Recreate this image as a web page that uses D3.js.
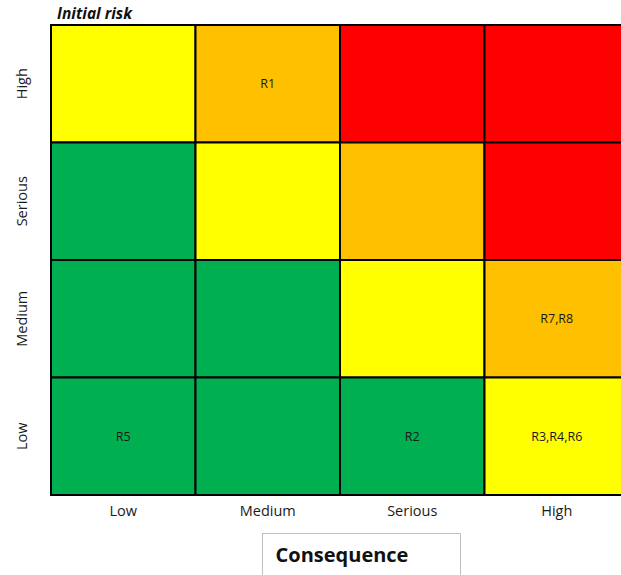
<!DOCTYPE html>
<html>
<head>
<meta charset="utf-8">
<script src="https://cdn.jsdelivr.net/npm/d3@7"></script>
<style>
  html, body { margin: 0; padding: 0; background: #fff; }
  svg { display: block; }
</style>
</head>
<body>
<div id="chart"></div>
<script>
// Risk matrix: likelihood rows (top = High) against consequence columns
const consequenceLevels = ["Low", "Medium", "Serious", "High"];
const likelihoodLevels = ["High", "Serious", "Medium", "Low"];

// Risk rating per cell, one row per likelihood level (top to bottom)
const ratingHigh    = ["medium", "elevated", "extreme", "extreme"];
const ratingSerious = ["low", "medium", "elevated", "extreme"];
const ratingMedium  = ["low", "low", "medium", "elevated"];
const ratingLow     = ["low", "low", "low", "medium"];

// Risk identifiers placed in each cell
const risksHigh    = ["", "R1", "", ""];
const risksSerious = ["", "", "", ""];
const risksMedium  = ["", "", "", "R7,R8"];
const risksLow     = ["R5", "", "R2", "R3,R4,R6"];

const ratingColors = { low: "#00B050", medium: "#FFFF00", elevated: "#FFC000", extreme: "#FF0000" };

const ratingRows = [ratingHigh, ratingSerious, ratingMedium, ratingLow];
const riskRows = [risksHigh, risksSerious, risksMedium, risksLow];

const cells = [];
likelihoodLevels.forEach((lik, r) => {
  consequenceLevels.forEach((con, c) => {
    cells.push({ likelihood: lik, consequence: con, rating: ratingRows[r][c], risks: riskRows[r][c] });
  });
});

const W = 621, H = 575;
const svg = d3.select("#chart").append("svg").attr("width", W).attr("height", H);

const x = d3.scaleBand().domain(consequenceLevels).range([51, 629]).padding(0);
const y = d3.scaleBand().domain(likelihoodLevels).range([25, 495]).padding(0);

const font = "Open Sans, Noto Sans, sans-serif";

// Cells
const g = svg.append("g");
g.selectAll("rect.cell").data(cells).join("rect")
  .attr("class", "cell")
  .attr("x", d => x(d.consequence))
  .attr("y", d => y(d.likelihood))
  .attr("width", x.bandwidth())
  .attr("height", y.bandwidth())
  .attr("fill", d => ratingColors[d.rating])
  .attr("stroke", "#000")
  .attr("stroke-width", 2);

g.selectAll("text.risk").data(cells.filter(d => d.risks)).join("text")
  .attr("class", "risk")
  .attr("x", d => x(d.consequence) + x.bandwidth() / 2)
  .attr("y", d => y(d.likelihood) + y.bandwidth() / 2)
  .attr("text-anchor", "middle")
  .attr("dominant-baseline", "central")
  .attr("font-family", font)
  .attr("font-size", 12.5)
  .attr("fill", "#1a1a1a")
  .text(d => d.risks);

// Consequence labels along the bottom
svg.selectAll("text.xlab").data(consequenceLevels).join("text")
  .attr("class", "xlab")
  .attr("x", d => x(d) + x.bandwidth() / 2)
  .attr("y", 516)
  .attr("text-anchor", "middle")
  .attr("font-family", font)
  .attr("font-size", 14.5)
  .attr("fill", "#1a1a1a")
  .text(d => d);

// Likelihood labels, rotated
svg.selectAll("text.ylab").data(likelihoodLevels).join("text")
  .attr("class", "ylab")
  .attr("transform", d => `translate(27,${y(d) + y.bandwidth() / 2}) rotate(-90)`)
  .attr("text-anchor", "middle")
  .attr("font-family", font)
  .attr("font-size", 14.5)
  .attr("fill", "#1a1a1a")
  .text(d => d);

// Title
svg.append("text")
  .attr("x", 57).attr("y", 19)
  .attr("font-family", font)
  .attr("font-size", 15.5)
  .attr("font-weight", "bold")
  .attr("font-style", "italic")
  .attr("fill", "#111")
  .text("Initial risk");

// Axis title box
svg.append("rect")
  .attr("x", 262.5).attr("y", 533.5)
  .attr("width", 198).attr("height", 50)
  .attr("fill", "#fff")
  .attr("stroke", "#bfbfbf")
  .attr("stroke-width", 1);
svg.append("text")
  .attr("x", 342).attr("y", 562)
  .attr("text-anchor", "middle")
  .attr("font-family", font)
  .attr("font-size", 20)
  .attr("font-weight", "bold")
  .attr("fill", "#111")
  .text("Consequence");
</script>
</body>
</html>
